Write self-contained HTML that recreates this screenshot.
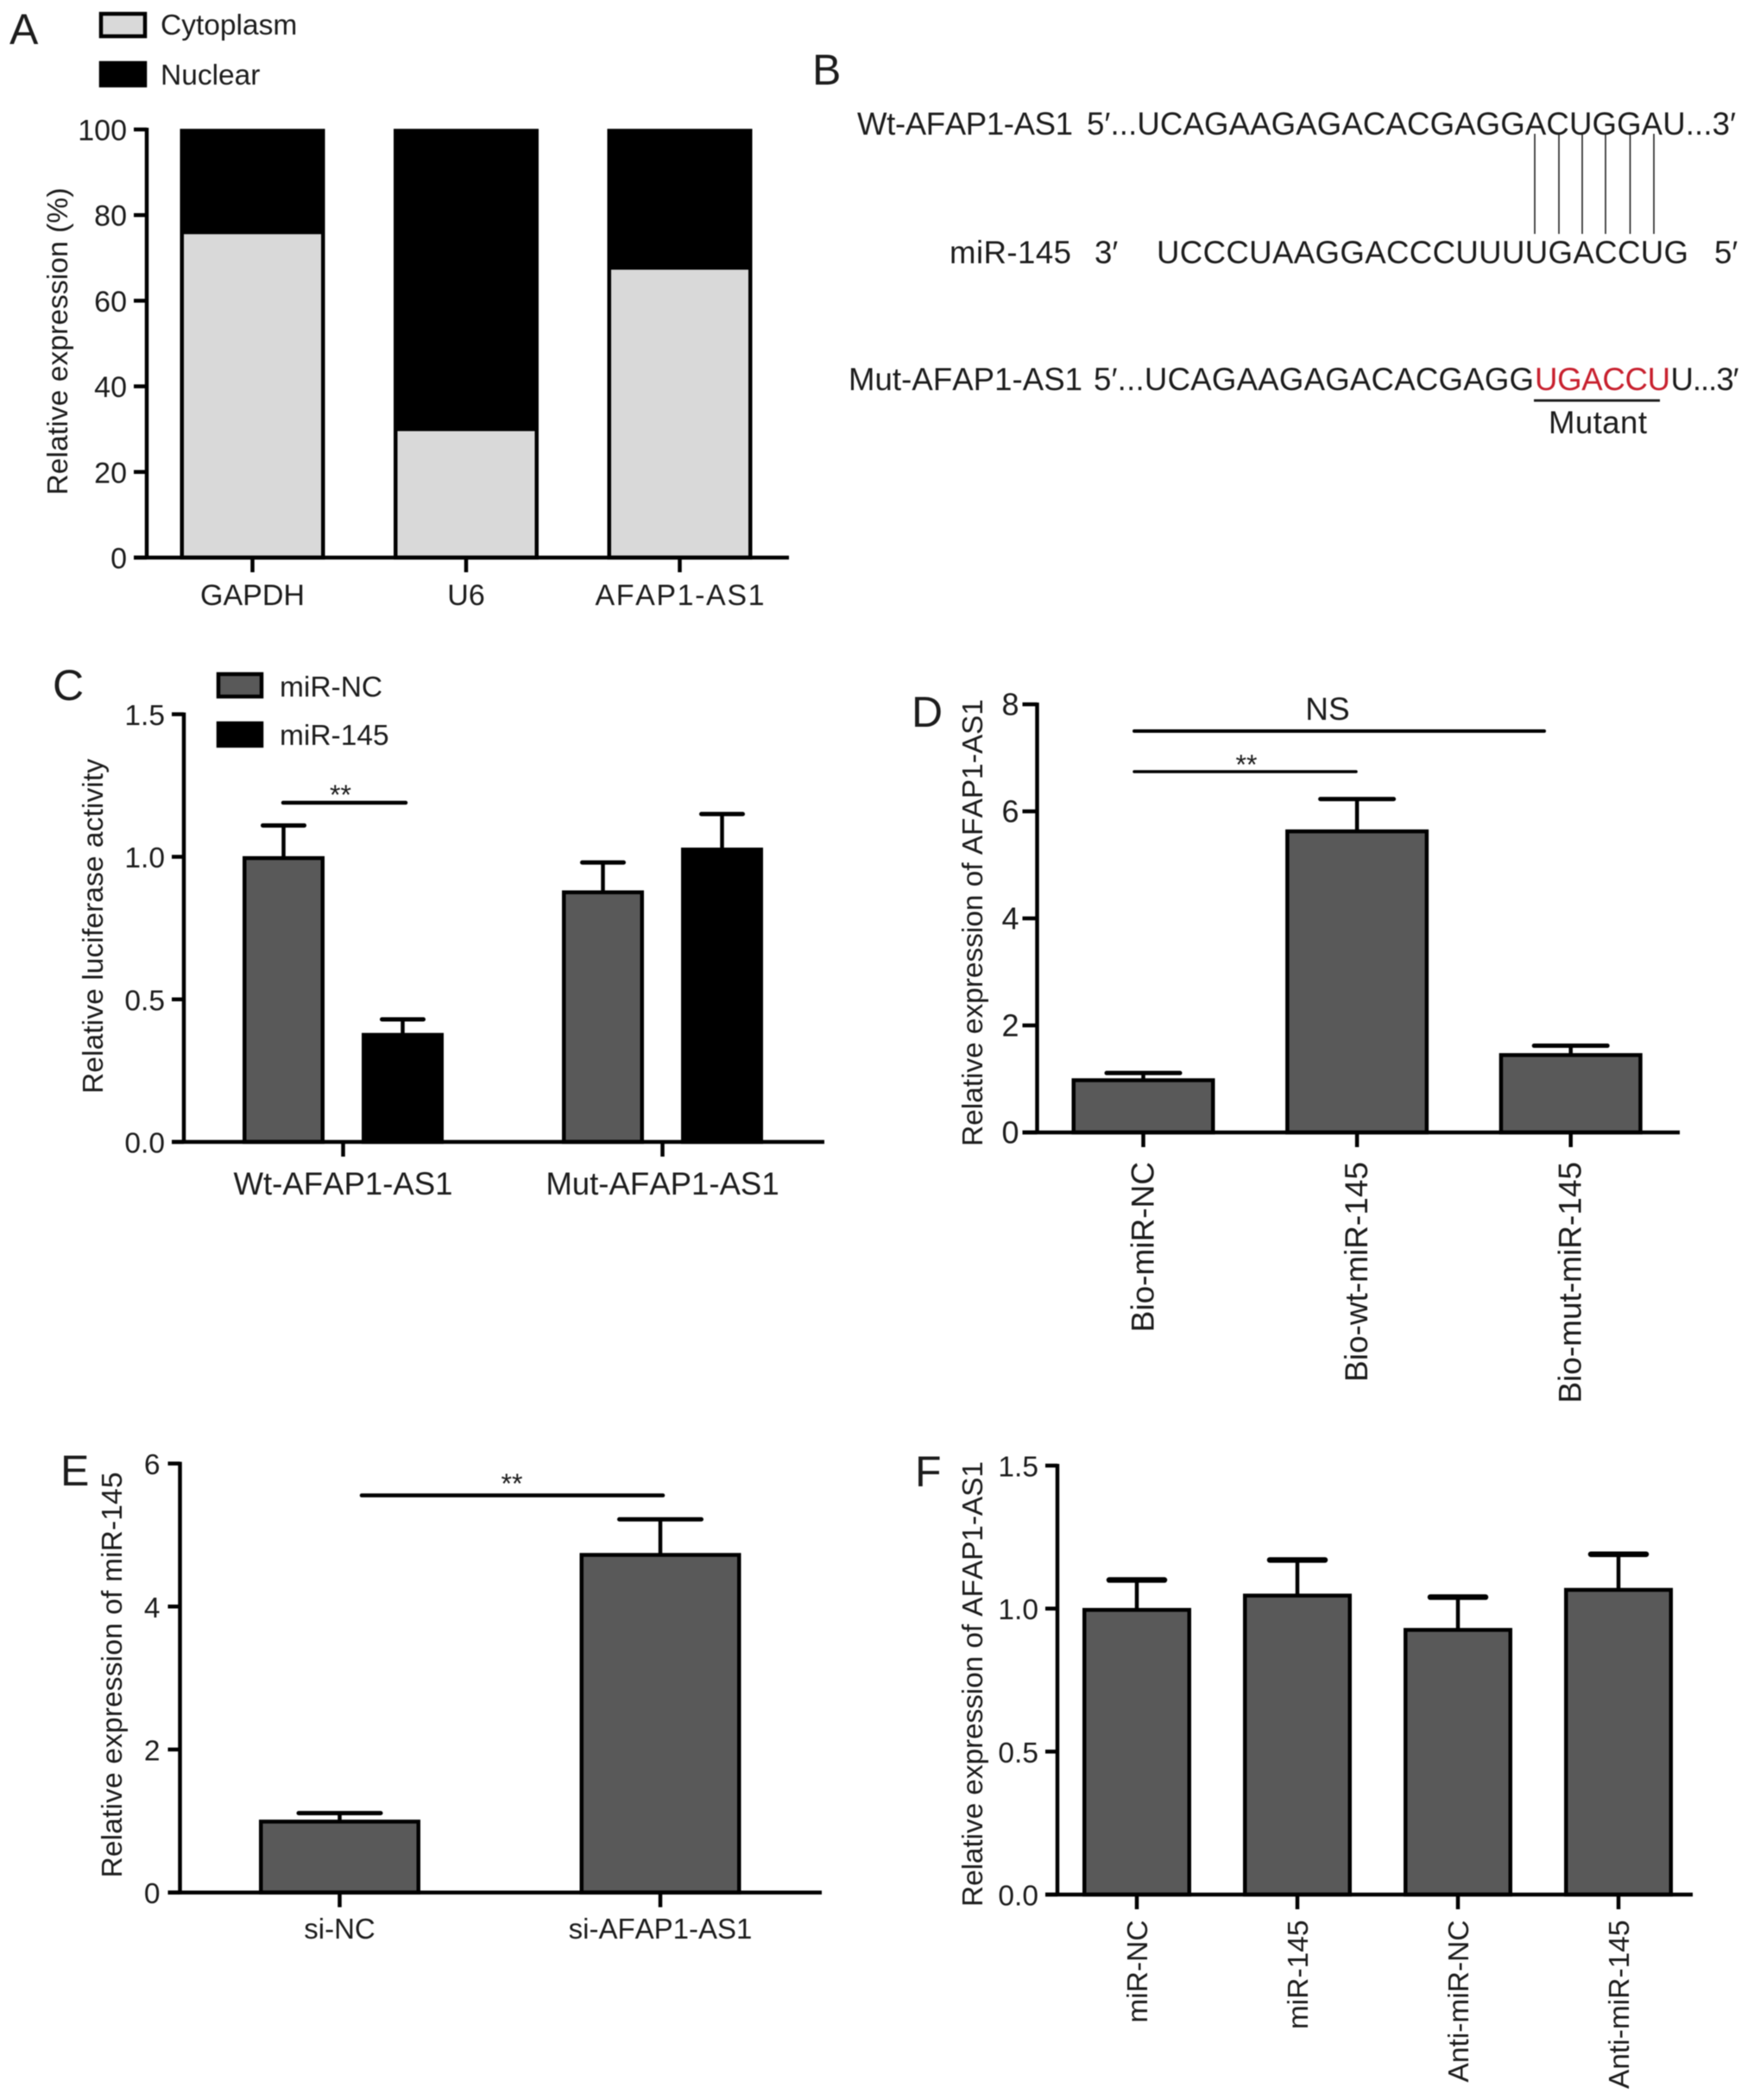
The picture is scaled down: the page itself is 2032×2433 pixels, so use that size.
<!DOCTYPE html>
<html lang="en">
<head>
<meta charset="utf-8">
<title>AFAP1-AS1 and miR-145 multi-panel figure</title>
<style>
  html, body { margin: 0; padding: 0; background: #fff; }
  body { width: 2032px; height: 2433px; overflow: hidden; }
  #figure { display: block; filter: blur(0.6px); }
  text { font-family: "Liberation Sans", Arial, sans-serif; fill: #1c1c1c; font-kerning: none; }
</style>
</head>
<body>
<svg id="figure" xmlns="http://www.w3.org/2000/svg" width="2032" height="2433" viewBox="0 0 2032 2433">
  <rect x="0" y="0" width="2032" height="2433" fill="#fff"/>

  <!-- Panel letters -->
  <g font-size="50">
    <text x="11" y="51">A</text>
    <text x="941" y="98">B</text>
    <text x="61" y="811">C</text>
    <text x="1056" y="842">D</text>
    <text x="70" y="1721">E</text>
    <text x="1060" y="1722">F</text>
  </g>

  <!-- Panel A legend and title -->
  <g>
    <rect x="117" y="16" width="51" height="26" fill="#d9d9d9" stroke="#000" stroke-width="4.5"/>
    <text x="186" y="40" font-size="33.5">Cytoplasm</text>
    <rect x="117" y="73" width="51" height="26" fill="#000" stroke="#000" stroke-width="4.5"/>
    <text x="186" y="98" font-size="33.5">Nuclear</text>
  </g>
  <text transform="rotate(-90 78 395.5)" x="78" y="395.5" text-anchor="middle" font-size="33.5" textLength="356" lengthAdjust="spacing">Relative expression (%)</text>
  <g id="panel-a"></g>

  <!-- Panel B sequence alignment -->
  <g font-size="36.6">
    <text x="993" y="156" textLength="250" lengthAdjust="spacing">Wt-AFAP1-AS1</text>
    <text x="1259" y="156" textLength="752" lengthAdjust="spacing">5′...UCAGAAGAGACACGAGGACUGGAU...3′</text>
    <text x="1100" y="305" textLength="141" lengthAdjust="spacing">miR-145</text>
    <text x="1268" y="305">3′</text>
    <text x="1340" y="305" textLength="616" lengthAdjust="spacing">UCCCUAAGGACCCUUUUGACCUG</text>
    <text x="1986" y="305">5′</text>
    <text x="983" y="452" textLength="271" lengthAdjust="spacing">Mut-AFAP1-AS1</text>
    <text x="1267" y="452" textLength="510" lengthAdjust="spacing">5′...UCAGAAGAGACACGAGG</text>
    <text x="1778" y="452" textLength="157" lengthAdjust="spacing" style="fill:#c8202e">UGACCU</text>
    <text x="1935.5" y="452" textLength="79" lengthAdjust="spacing">U...3′</text>
    <text x="1794" y="502" textLength="114" lengthAdjust="spacing">Mutant</text>
    <g stroke="#222" stroke-width="1.6">
      <line x1="1778" y1="155" x2="1778" y2="271"/>
      <line x1="1806" y1="155" x2="1806" y2="271"/>
      <line x1="1833" y1="155" x2="1833" y2="271"/>
      <line x1="1860" y1="155" x2="1860" y2="271"/>
      <line x1="1888.5" y1="155" x2="1888.5" y2="271"/>
      <line x1="1916" y1="155" x2="1916" y2="271"/>
    </g>
    <line x1="1777" y1="464" x2="1923" y2="464" stroke="#222" stroke-width="3"/>
  </g>

  <!-- Panel C legend, title and significance -->
  <g>
    <rect x="253" y="781" width="50" height="26" fill="#595959" stroke="#000" stroke-width="4.5"/>
    <text x="324" y="807" font-size="33.5">miR-NC</text>
    <rect x="253" y="838" width="50" height="26" fill="#000" stroke="#000" stroke-width="4.5"/>
    <text x="324" y="863" font-size="33.5">miR-145</text>
  </g>
  <text transform="rotate(-90 119 1073)" x="119" y="1073" text-anchor="middle" font-size="33.5" textLength="388" lengthAdjust="spacing">Relative luciferase activity</text>
  <g id="panel-c"></g>
  <line x1="328" y1="930" x2="470" y2="930" stroke="#000" stroke-width="4.5" stroke-linecap="round"/>
  <text x="394.5" y="932" text-anchor="middle" font-size="32">**</text>

  <!-- Panel D title and significance -->
  <text transform="rotate(-90 1138 1069)" x="1138" y="1069" text-anchor="middle" font-size="33.5" textLength="518" lengthAdjust="spacing">Relative expression of AFAP1-AS1</text>
  <g id="panel-d"></g>
  <text x="1538" y="834" text-anchor="middle" font-size="37">NS</text>
  <line x1="1314" y1="847" x2="1789" y2="847" stroke="#000" stroke-width="4" stroke-linecap="round"/>
  <line x1="1314" y1="894" x2="1571" y2="894" stroke="#000" stroke-width="3.5" stroke-linecap="round"/>
  <text x="1444" y="897" text-anchor="middle" font-size="32">**</text>

  <!-- Panel E title and significance -->
  <text transform="rotate(-90 141 1940.5)" x="141" y="1940.5" text-anchor="middle" font-size="33.5" textLength="470" lengthAdjust="spacing">Relative expression of miR-145</text>
  <g id="panel-e"></g>
  <line x1="419" y1="1732.5" x2="768" y2="1732.5" stroke="#000" stroke-width="4.5" stroke-linecap="round"/>
  <text x="593" y="1730" text-anchor="middle" font-size="32">**</text>

  <!-- Panel F title -->
  <text transform="rotate(-90 1138 1951)" x="1138" y="1951" text-anchor="middle" font-size="33.5" textLength="516" lengthAdjust="spacing">Relative expression of AFAP1-AS1</text>
  <g id="panel-f"></g>
</svg>

<script>
// ---- Panel A data ----
const aCategories = ['GAPDH', 'U6', 'AFAP1-AS1'];
const aCytoplasm = [76, 30, 67.7];
const aNuclear = [24, 70, 32.3];
const aTicks = [0, 20, 40, 60, 80, 100];
const aTickLabels = ['0', '20', '40', '60', '80', '100'];

// ---- Panel C data ----
const cCategories = ['Wt-AFAP1-AS1', 'Mut-AFAP1-AS1'];
const cMirNC = [1.0, 0.88];
const cMirNCErr = [0.11, 0.10];
const cMir145 = [0.38, 1.03];
const cMir145Err = [0.05, 0.12];
const cTicks = [0, 0.5, 1.0, 1.5];
const cTickLabels = ['0.0', '0.5', '1.0', '1.5'];

// ---- Panel D data ----
const dCategories = ['Bio-miR-NC', 'Bio-wt-miR-145', 'Bio-mut-miR-145'];
const dValues = [1.0, 5.65, 1.47];
const dErrors = [0.11, 0.58, 0.15];
const dTicks = [0, 2, 4, 6, 8];
const dTickLabels = ['0', '2', '4', '6', '8'];

// ---- Panel E data ----
const eCategories = ['si-NC', 'si-AFAP1-AS1'];
const eValues = [1.01, 4.74];
const eErrors = [0.1, 0.48];
const eTicks = [0, 2, 4, 6];
const eTickLabels = ['0', '2', '4', '6'];

// ---- Panel F data ----
const fCategories = ['miR-NC', 'miR-145', 'Anti-miR-NC', 'Anti-miR-145'];
const fValues = [1.0, 1.05, 0.93, 1.07];
const fErrors = [0.1, 0.12, 0.11, 0.12];
const fTicks = [0, 0.5, 1.0, 1.5];
const fTickLabels = ['0.0', '0.5', '1.0', '1.5'];

const NS = 'http://www.w3.org/2000/svg';
function mk(parent, tag, attrs, text) {
  const el = document.createElementNS(NS, tag);
  for (const k in attrs) el.setAttribute(k, attrs[k]);
  if (text !== undefined) el.textContent = text;
  parent.appendChild(el);
  return el;
}

function linearY(max, y0, yTop) {
  return function (v) { return y0 - (v / max) * (y0 - yTop); };
}

// Shared axis drawing: y axis with ticks, x axis, x ticks and category labels.
function drawAxes(g, o) {
  const yAxis = mk(g, 'line', { x1: o.axisX, x2: o.axisX, y1: o.yTop - 2, y2: o.y0 + 2, stroke: '#000', 'stroke-width': 4.5 });
  
  
  const xAxis = mk(g, 'line', { x1: o.axisX - o.tickLen, x2: o.axisEnd, y1: o.y0, y2: o.y0, stroke: '#000', 'stroke-width': 4.5 });
  
  
  o.ticks.forEach(function (t, i) {
    const y = o.y(t);
    const tick = mk(g, 'line', { x1: o.axisX - o.tickLen, x2: o.axisX, y1: y, y2: y, stroke: '#000', 'stroke-width': 4.5 });
    
    
    const lab = mk(g, 'text', { x: o.axisX - o.tickLen - o.tickGap, y: y + 12.5, 'text-anchor': 'end', 'font-size': o.tickFont }, o.tickLabels[i]);
    
    
  });
  o.categories.forEach(function (c, i) {
    const cx = o.center(i);
    const tick = mk(g, 'line', { x1: cx, x2: cx, y1: o.y0, y2: o.y0 + 17, stroke: '#000', 'stroke-width': 4.5 });
    
    
    let lab;
    if (o.rotated) {
      const bx = cx + o.labelOffset;
      const by = o.labelY;
      lab = mk(g, 'text', { x: bx, y: by, 'text-anchor': 'end', 'font-size': o.labelFont, transform: 'rotate(-90 ' + bx + ' ' + by + ')' }, c);
    } else {
      lab = mk(g, 'text', { x: cx + (o.labelShift || 0), y: o.labelY, 'text-anchor': 'middle', 'font-size': o.labelFont }, c);
      if (o.stretchWide && c.length > 8) {
        lab.setAttribute('textLength', o.stretchWide);
        lab.setAttribute('lengthAdjust', 'spacing');
      }
    }
    
    
  });
}

function drawBar(g, cx, width, value, err, y, y0, fill, sw, capW, capSw) {
  const top = y(value) + 1.5;
  if (err !== null) {
    const errTop = y(value + err);
    const stem = mk(g, 'line', { x1: cx, x2: cx, y1: top, y2: errTop, stroke: '#000', 'stroke-width': 4.5 });
    
    
    const cap = mk(g, 'line', { x1: cx - capW / 2, x2: cx + capW / 2, y1: errTop, y2: errTop, stroke: '#000', 'stroke-width': capSw, 'stroke-linecap': 'round' });
    
    
  }
  const bar = mk(g, 'rect', { x: cx - width / 2 + sw / 2, y: top, width: width - sw, height: y0 - top, fill: fill, stroke: '#000', 'stroke-width': sw });
  
  
  return bar;
}

// ---- Panel A: stacked bars ----
(function () {
  const g = document.getElementById('panel-a');
  const y0 = 646, yTop = 150, y = linearY(100, y0, yTop);
  const center = function (i) { return 292.5 + i * 247.5; };
  const width = 168, sw = 4.5;
  aCategories.forEach(function (c, i) {
    const cx = center(i);
    const split = y(aCytoplasm[i]);
    const nucTop = y(aCytoplasm[i] + aNuclear[i]) + 1.5;
    const nuc = mk(g, 'rect', { x: cx - width / 2 + sw / 2, y: nucTop, width: width - sw, height: split - nucTop, fill: '#000', stroke: '#000', 'stroke-width': sw });
    
    
    const cyt = mk(g, 'rect', { x: cx - width / 2 + sw / 2, y: split, width: width - sw, height: y0 - split, fill: '#d9d9d9', stroke: '#000', 'stroke-width': sw });
    
    
  });
  drawAxes(g, { axisX: 170, axisEnd: 914, y0: y0, yTop: yTop, y: y, tickLen: 15, tickGap: 8, tickFont: 34, ticks: aTicks, tickLabels: aTickLabels, categories: aCategories, center: center, labelY: 701, labelFont: 34, stretchWide: 196 });
})();

// ---- Panel C: grouped bars ----
(function () {
  const g = document.getElementById('panel-c');
  const y0 = 1323, yTop = 827.5, y = linearY(1.5, y0, yTop);
  const center = function (i) { return 397.5 + i * 370; };
  cCategories.forEach(function (c, i) {
    drawBar(g, center(i) - 69, 95, cMirNC[i], cMirNCErr[i], y, y0, '#595959', 4.5, 48, 5);
    drawBar(g, center(i) + 69, 95, cMir145[i], cMir145Err[i], y, y0, '#000', 4.5, 48, 5);
  });
  drawAxes(g, { axisX: 213, axisEnd: 955, y0: y0, yTop: yTop, y: y, tickLen: 14, tickGap: 8, tickFont: 33.5, ticks: cTicks, tickLabels: cTickLabels, categories: cCategories, center: center, labelY: 1384, labelFont: 36.6 });
})();

// ---- Panel D ----
(function () {
  const g = document.getElementById('panel-d');
  const y0 = 1312, yTop = 816, y = linearY(8, y0, yTop);
  const center = function (i) { return 1324.5 + i * 247.6; };
  dCategories.forEach(function (c, i) {
    drawBar(g, center(i), 166, dValues[i], dErrors[i], y, y0, '#595959', 4.5, 85, 5);
  });
  drawAxes(g, { axisX: 1201.5, axisEnd: 1946, y0: y0, yTop: yTop, y: y, tickLen: 17, tickGap: 4, tickFont: 36, ticks: dTicks, tickLabels: dTickLabels, categories: dCategories, center: center, rotated: true, labelOffset: 12, labelY: 1346, labelFont: 37 });
})();

// ---- Panel E ----
(function () {
  const g = document.getElementById('panel-e');
  const y0 = 2192.6, yTop = 1695.6, y = linearY(6, y0, yTop);
  const center = function (i) { return 393.5 + i * 371.5; };
  eCategories.forEach(function (c, i) {
    drawBar(g, center(i), 187, eValues[i], eErrors[i], y, y0, '#595959', 4.5, 95, 5);
  });
  drawAxes(g, { axisX: 208.5, axisEnd: 952, y0: y0, yTop: yTop, y: y, tickLen: 14, tickGap: 9, tickFont: 33.5, ticks: eTicks, tickLabels: eTickLabels, categories: eCategories, center: center, labelY: 2246, labelFont: 33 });
})();

// ---- Panel F ----
(function () {
  const g = document.getElementById('panel-f');
  const y0 = 2195, yTop = 1698, y = linearY(1.5, y0, yTop);
  const center = function (i) { return 1317 + i * 186; };
  fCategories.forEach(function (c, i) {
    drawBar(g, center(i), 126, fValues[i], fErrors[i], y, y0, '#595959', 4.5, 64, 6.5);
  });
  drawAxes(g, { axisX: 1225, axisEnd: 1961, y0: y0, yTop: yTop, y: y, tickLen: 14, tickGap: 8, tickFont: 33.5, ticks: fTicks, tickLabels: fTickLabels, categories: fCategories, center: center, rotated: true, labelOffset: 12, labelY: 2224.5, labelFont: 33.5 });
})();
</script>
</body>
</html>
